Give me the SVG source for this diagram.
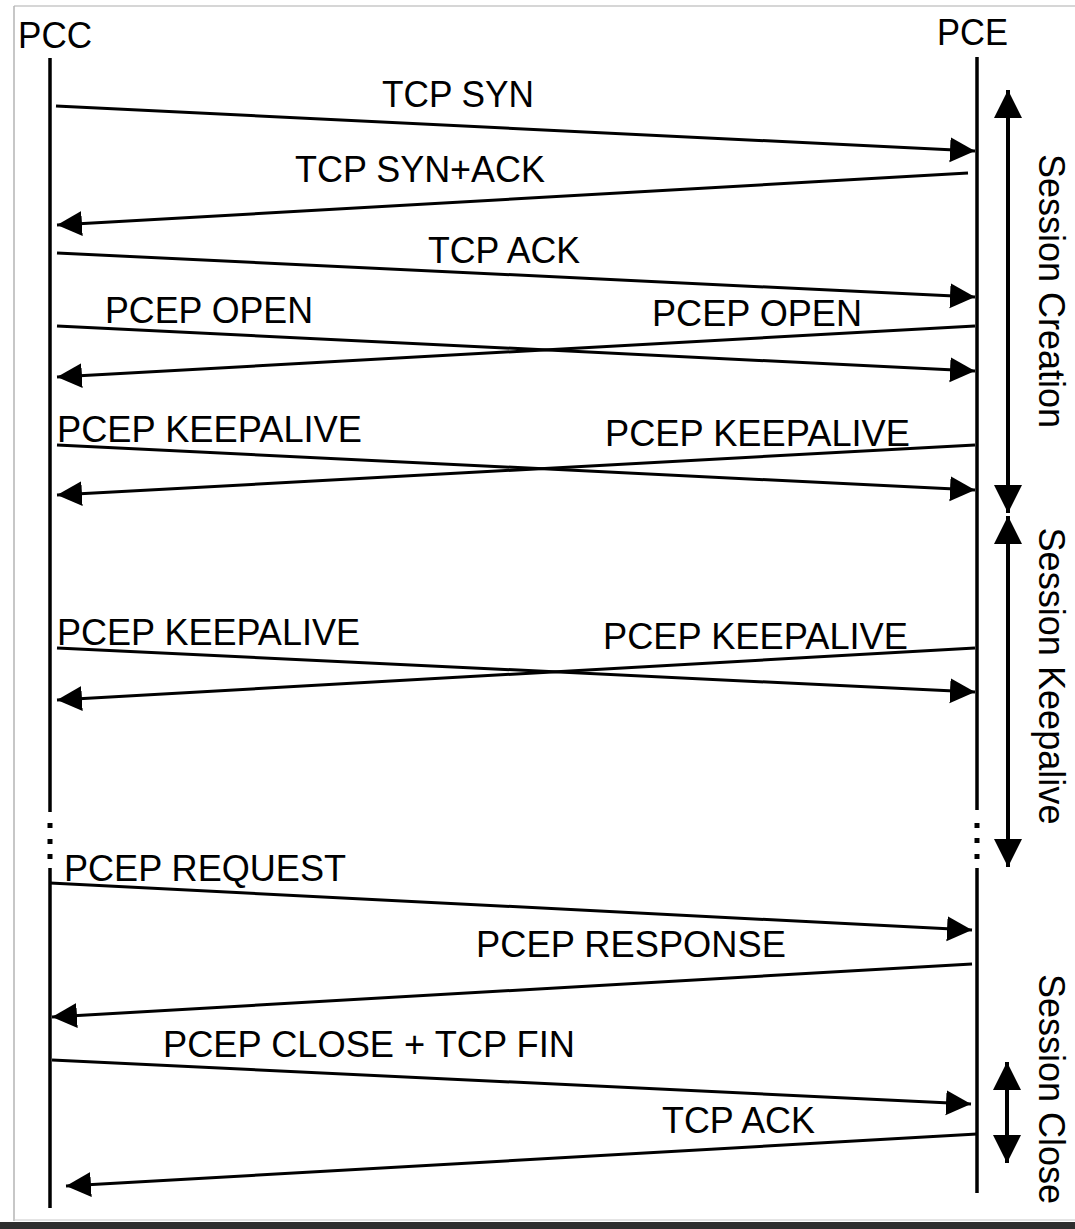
<svg xmlns="http://www.w3.org/2000/svg" width="1075" height="1229" viewBox="0 0 1075 1229">
<style>
text{font-family:"Liberation Sans",Arial,sans-serif;font-size:36px;fill:#000}
.msg{stroke:#000;stroke-width:3;fill:none;marker-end:url(#ah)}
.life{stroke:#000;stroke-width:3.5;fill:none}
.dot{fill:#000}
.span{stroke:#000;stroke-width:4;fill:none;marker-start:url(#bh);marker-end:url(#bh)}
.sess{font-size:36px}
</style>
<defs>
<marker id="ah" markerUnits="userSpaceOnUse" markerWidth="26" markerHeight="26" refX="25" refY="12.5" orient="auto" viewBox="0 0 26 26">
<path d="M0,0 L25,12.5 L0,25 z" fill="#000"/>
</marker>
<marker id="bh" markerUnits="userSpaceOnUse" markerWidth="30" markerHeight="30" refX="28" refY="14" orient="auto-start-reverse" viewBox="0 0 30 30">
<path d="M0,0 L28,14 L0,28 z" fill="#000"/>
</marker>
</defs>
<rect width="1075" height="1229" fill="#fff"/>
<g id="frame">
<line x1="14" y1="6" x2="1075" y2="6" stroke="#c8c8c8" stroke-width="1.5"/>
<line x1="14" y1="6" x2="14" y2="1221" stroke="#b4b4b4" stroke-width="1.5"/>
<line x1="14" y1="1220" x2="1075" y2="1220" stroke="#c8c8c8" stroke-width="1"/>
<rect x="0" y="1222" width="1075" height="7" fill="#2e2e2e"/>
</g>
<g id="pcc">
<text x="18" y="48" textLength="74" lengthAdjust="spacingAndGlyphs">PCC</text>
<line class="life" x1="50" y1="58" x2="50" y2="812"/>
<rect class="dot" x="47.5" y="823" width="5" height="5"/>
<rect class="dot" x="47.5" y="839" width="5" height="5"/>
<rect class="dot" x="47.5" y="854" width="5" height="5"/>
<line class="life" x1="50" y1="868" x2="50" y2="1208"/>
</g>
<g id="pce">
<text x="937" y="45" textLength="71" lengthAdjust="spacingAndGlyphs">PCE</text>
<line class="life" x1="977" y1="57" x2="977" y2="810"/>
<rect class="dot" x="974.5" y="823" width="5" height="5"/>
<rect class="dot" x="974.5" y="838" width="5" height="5"/>
<rect class="dot" x="974.5" y="854" width="5" height="5"/>
<line class="life" x1="977" y1="868" x2="977" y2="1193"/>
</g>
<g id="connectors">
<path class="msg" d="M56,106 L975,151"/>
<path class="msg" d="M968,173 L57,225"/>
<path class="msg" d="M57,253 L975,297"/>
<path class="msg" d="M57,326 L975,371"/>
<path class="msg" d="M975,326 L57,377"/>
<path class="msg" d="M57,445 L975,490"/>
<path class="msg" d="M975,445 L57,495"/>
<path class="msg" d="M57,648 L975,692"/>
<path class="msg" d="M975,648 L57,700"/>
<path class="msg" d="M50,883 L972,930"/>
<path class="msg" d="M972,964 L52,1017"/>
<path class="msg" d="M52,1060 L971,1104"/>
<path class="msg" d="M977,1134 L66,1186"/>
</g>
<g id="labels">
<text x="382" y="107" textLength="152" lengthAdjust="spacingAndGlyphs">TCP SYN</text>
<text x="295" y="182" textLength="250" lengthAdjust="spacingAndGlyphs">TCP SYN+ACK</text>
<text x="428" y="263" textLength="152" lengthAdjust="spacingAndGlyphs">TCP ACK</text>
<text x="105" y="323" textLength="208" lengthAdjust="spacingAndGlyphs">PCEP OPEN</text>
<text x="652" y="326" textLength="210" lengthAdjust="spacingAndGlyphs">PCEP OPEN</text>
<text x="57" y="442" textLength="305" lengthAdjust="spacingAndGlyphs">PCEP KEEPALIVE</text>
<text x="605" y="446" textLength="305" lengthAdjust="spacingAndGlyphs">PCEP KEEPALIVE</text>
<text x="57" y="645" textLength="303" lengthAdjust="spacingAndGlyphs">PCEP KEEPALIVE</text>
<text x="603" y="649" textLength="305" lengthAdjust="spacingAndGlyphs">PCEP KEEPALIVE</text>
<text x="64" y="881" textLength="282" lengthAdjust="spacingAndGlyphs">PCEP REQUEST</text>
<text x="476" y="957" textLength="310" lengthAdjust="spacingAndGlyphs">PCEP RESPONSE</text>
<text x="163" y="1057" textLength="412" lengthAdjust="spacingAndGlyphs">PCEP CLOSE + TCP FIN</text>
<text x="662" y="1133" textLength="153" lengthAdjust="spacingAndGlyphs">TCP ACK</text>
</g>
<g id="session-creation">
<path class="span" d="M1008,90 L1008,513"/>
<text class="sess" text-anchor="middle" transform="translate(1039,291) rotate(90)">Session Creation</text>
</g>
<g id="session-keepalive">
<path class="span" d="M1008,516 L1008,867"/>
<text class="sess" text-anchor="middle" transform="translate(1039,676) rotate(90)" textLength="297" lengthAdjust="spacingAndGlyphs">Session Keepalive</text>
</g>
<g id="session-close">
<path class="span" d="M1007,1062 L1007,1163"/>
<text class="sess" text-anchor="middle" transform="translate(1039,1089) rotate(90)">Session Close</text>
</g>
</svg>
